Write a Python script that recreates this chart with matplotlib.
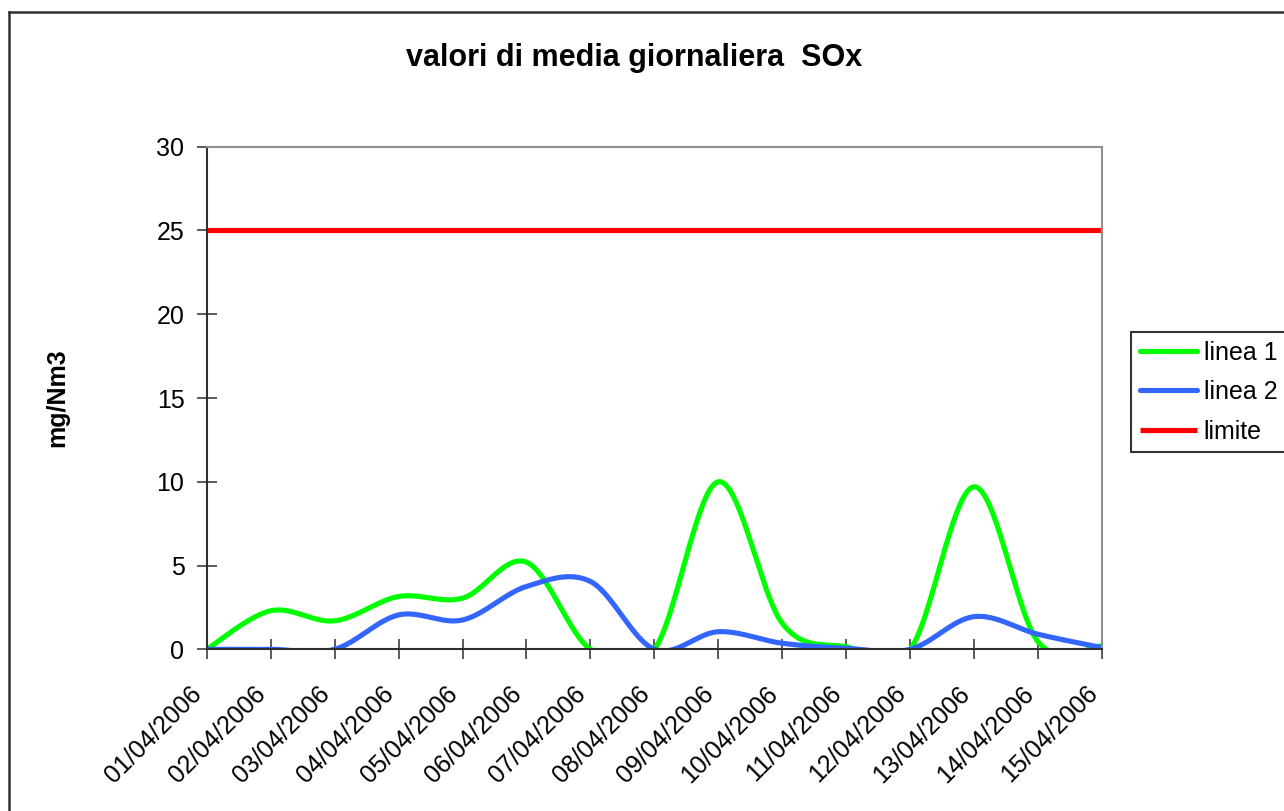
import numpy as np
import matplotlib
matplotlib.use("Agg")
import matplotlib.pyplot as plt
from matplotlib.lines import Line2D

dates = ["01/04/2006", "02/04/2006", "03/04/2006", "04/04/2006", "05/04/2006",
         "06/04/2006", "07/04/2006", "08/04/2006", "09/04/2006", "10/04/2006",
         "11/04/2006", "12/04/2006", "13/04/2006", "14/04/2006", "15/04/2006"]
linea1 = [0.0, 2.3, 1.7, 3.15, 3.05, 5.2, 0.0, 0.0, 10.0, 1.55, 0.15, 0.0, 9.7, 0.45, 0.2]
linea2 = [0.0, 0.0, 0.0, 2.05, 1.75, 3.75, 4.05, 0.0, 1.05, 0.36, 0.06, 0.0, 1.95, 0.9, 0.1]
limite = [25.0] * 15

title = "valori di media giornaliera  SOx"
ylabel = "mg/Nm3"
yticks = [0, 5, 10, 15, 20, 25, 30]

plt.rcParams['font.family'] = ['Liberation Sans', 'DejaVu Sans']


def smooth(xs, ys, n=40):
    """Catmull-Rom style cubic Bezier smoothing (like Excel's smoothed lines)."""
    xs = np.asarray(xs, float)
    ys = np.asarray(ys, float)
    px = np.concatenate([[xs[0]], xs, [xs[-1]]])
    py = np.concatenate([[ys[0]], ys, [ys[-1]]])
    outx, outy = [], []
    t = np.linspace(0, 1, n)
    for i in range(len(xs) - 1):
        p0x, p0y = px[i + 1], py[i + 1]
        p3x, p3y = px[i + 2], py[i + 2]
        c1x = p0x + (px[i + 2] - px[i]) / 6
        c1y = p0y + (py[i + 2] - py[i]) / 6
        c2x = p3x - (px[i + 3] - px[i + 1]) / 6
        c2y = p3y - (py[i + 3] - py[i + 1]) / 6
        bx = (1 - t) ** 3 * p0x + 3 * (1 - t) ** 2 * t * c1x + 3 * (1 - t) * t ** 2 * c2x + t ** 3 * p3x
        by = (1 - t) ** 3 * p0y + 3 * (1 - t) ** 2 * t * c1y + 3 * (1 - t) * t ** 2 * c2y + t ** 3 * p3y
        if i > 0:
            bx, by = bx[1:], by[1:]
        outx.append(bx)
        outy.append(by)
    return np.concatenate(outx), np.concatenate(outy)


W, H = 1284, 811
fig = plt.figure(figsize=(W / 100, H / 100), dpi=100)
ax = fig.add_axes([206.7 / W, 1 - 649.3 / H, (1102 - 206.7) / W, (649.3 - 146.7) / H])

x = np.arange(len(dates))
lw = 3.7
gx, gy = smooth(x, linea1)
bx, by = smooth(x, linea2)
ax.plot(gx, gy, color="#00FF00", lw=lw, label="linea 1", solid_capstyle="round")
ax.plot(bx, by, color="#3366FF", lw=lw, label="linea 2", solid_capstyle="round")
ax.plot(x, limite, color="#FF0000", lw=lw, label="limite", solid_capstyle="butt")

ax.set_xlim(0, len(dates) - 1)
ax.set_ylim(0, 30)
ax.set_yticks(yticks)
ax.set_yticklabels([str(v) for v in yticks], fontsize=18)
ax.set_xticks(x)
ax.set_xticklabels(dates, fontsize=18, rotation=45, ha="right")

ax.tick_params(axis="both", direction="inout", length=14, width=1.2, color="#404040")
ax.tick_params(axis="y", pad=9)
ax.tick_params(axis="x", pad=16)

ax.spines["left"].set_color("#303030")
ax.spines["bottom"].set_color("#303030")
ax.spines["left"].set_linewidth(1.5)
ax.spines["bottom"].set_linewidth(1.5)
ax.spines["top"].set_color("#909090")
ax.spines["right"].set_color("#909090")
ax.spines["top"].set_linewidth(1.5)
ax.spines["right"].set_linewidth(1.5)

fig.text(634 / W, 1 - 58 / H, title, fontsize=22, fontweight="bold", ha="center", va="center")
fig.text(57 / W, 1 - 398 / H, ylabel, fontsize=18, fontweight="bold", rotation=90,
         ha="center", va="center")

leg = fig.legend(loc="upper left", bbox_to_anchor=(1131 / W, 1 - 332 / H), fontsize=18,
                 frameon=True, fancybox=False, borderpad=0.35, handlelength=2.3,
                 handletextpad=0.25, labelspacing=0.62, borderaxespad=0)
leg.get_frame().set_edgecolor("black")
leg.get_frame().set_linewidth(1.5)

# outer chart border (left and top visible)
fig.add_artist(Line2D([8.5 / W, 8.5 / W], [0, 1 - 12 / H], transform=fig.transFigure,
                      color="#303030", lw=1.8))
fig.add_artist(Line2D([8.5 / W, 1], [1 - 12 / H, 1 - 12 / H], transform=fig.transFigure,
                      color="#303030", lw=1.8))

fig.savefig("out.png", dpi=100)
